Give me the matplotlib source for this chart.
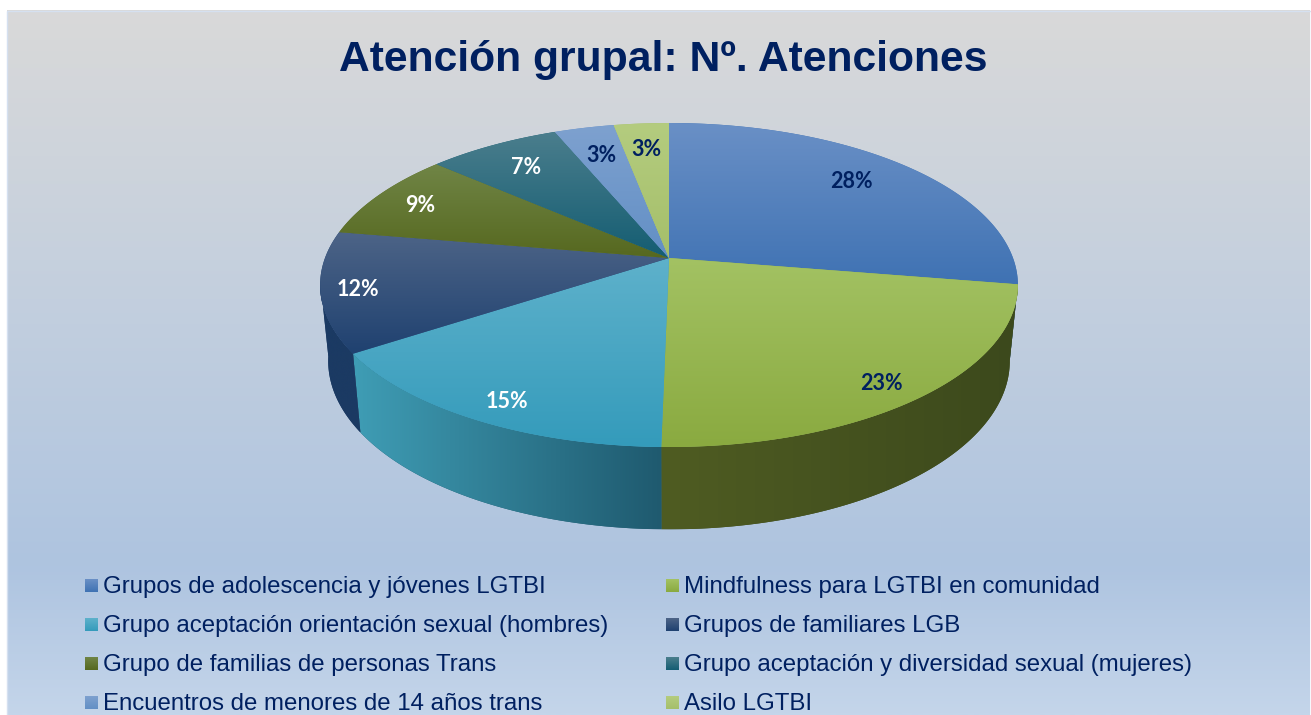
import numpy as np
import matplotlib
matplotlib.use('Agg')
import matplotlib.pyplot as plt
from matplotlib.colors import LinearSegmentedColormap
from matplotlib.patches import Polygon, Rectangle

W, H = 1311, 715

title = 'Atención grupal: Nº. Atenciones'
categories = [
    'Grupos de adolescencia y jóvenes LGTBI',
    'Mindfulness para LGTBI en comunidad',
    'Grupo aceptación orientación sexual (hombres)',
    'Grupos de familiares LGB',
    'Grupo de familias de personas Trans',
    'Grupo aceptación y diversidad sexual (mujeres)',
    'Encuentros de menores de 14 años trans',
    'Asilo LGTBI',
]
values = [27.6, 22.7, 15.4, 12.0, 8.8, 7.25, 3.25, 3.0]

# face gradient (top colour, bottom colour) for each slice
face_colors = [
    ('#6a90c6', '#3f72b3'), ('#a3c263', '#8aaa40'), ('#5eb1cb', '#349bbb'),
    ('#4d6487', '#1f4170'), ('#708546', '#56681f'), ('#4b7e8d', '#145d72'),
    ('#7ea1cf', '#628fc5'), ('#b4cc7f', '#a5bf6a'),
]
# wall gradient (left colour, right colour)
wall_colors = [
    ('#2f5a8f', '#2f5a8f'), ('#4f5c22', '#3c491c'), ('#3f9db5', '#1f5a6f'),
    ('#1b3a63', '#1b3a63'), None, None, None, None,
]
label_colors = ['#002060', '#002060', 'white', 'white', 'white', 'white', '#002060', '#002060']
label_xy = [(851, 181), (881, 383), (507, 402), (358, 289), (420, 206), (526, 167), (601, 155), (646, 150)]

# perspective of the pie: unit circle -> screen pixels
CX, K = 669, 0.1667
TOP_Y, TOP_A, TOP_B = 258, 344, 157.5
LOW_Y, LOW_A, LOW_B = 333, 336, 163.6


def project(theta, cy, a, b):
    u, v = np.sin(theta), np.cos(theta)
    d = 1 + K * v
    return np.column_stack([CX + a * u / d, cy - b * v / d])


def gradient_fill(ax, poly, c1, c2, horizontal=False, zorder=2):
    x0, x1 = poly[:, 0].min(), poly[:, 0].max()
    y0, y1 = poly[:, 1].min(), poly[:, 1].max()
    ax.add_patch(Polygon(poly, closed=True, fc=c2, ec='none', zorder=zorder))
    cmap = LinearSegmentedColormap.from_list('g', [c1, c2])
    grad = np.linspace(0, 1, 256)
    grad = grad.reshape(1, -1) if horizontal else grad.reshape(-1, 1)
    im = ax.imshow(grad, cmap=cmap, extent=(x0, x1, y1, y0), aspect='auto', zorder=zorder)
    im.set_clip_path(Polygon(poly, closed=True, transform=ax.transData))


fig = plt.figure(figsize=(W / 100, H / 100), dpi=100, facecolor='white')
ax = fig.add_axes([0, 0, 1, 1])

# chart area background
bg = LinearSegmentedColormap.from_list(
    'bg', [(0, '#d9d9d9'), (0.41, '#c3cfde'), (0.79, '#aec4e0'), (1, '#c4d5ea')])
ax.imshow(np.linspace(0, 1, 512).reshape(-1, 1), cmap=bg, extent=(7, 1310, 715, 10), aspect='auto', zorder=0)
ax.add_patch(Rectangle((6.5, 10.5), 1304, 710, fc='none', ec='#d5e0f0', lw=1, zorder=1))

fracs = np.cumsum([0] + values) / sum(values)
angles = 2 * np.pi * fracs

# walls first, the faces go over them
for i in range(4):
    if wall_colors[i] is None:
        continue
    t = np.linspace(angles[i], angles[i + 1], 200)
    t = t[(t > np.radians(98)) & (t < np.radians(262))]
    if len(t) < 2:
        continue
    upper = project(t, TOP_Y, TOP_A, TOP_B)
    lower = project(t, LOW_Y, LOW_A, LOW_B)
    gradient_fill(ax, np.vstack([upper, lower[::-1]]), *wall_colors[i], horizontal=True)

for i in range(len(values)):
    t = np.linspace(angles[i], angles[i + 1], 200)
    poly = np.vstack([[(CX, TOP_Y)], project(t, TOP_Y, TOP_A, TOP_B)])
    gradient_fill(ax, poly, *face_colors[i], zorder=3)

for val, col, (x, y) in zip(values, label_colors, label_xy):
    ax.text(x, y, f'{round(val)}%', color=col, ha='center', va='center', fontsize=15.5,
            family='Lato', weight='bold', zorder=5)

ax.text(663, 71, title, color='#002060', ha='center', va='baseline', fontsize=30.7,
        family='Liberation Sans', weight='bold', zorder=5)

# legend, two columns filled row by row
row_y = [586, 625, 664, 703]
col_x = [85, 666]
for i, name in enumerate(categories):
    x, y = col_x[i % 2], row_y[i // 2]
    sq = np.array([(x, y - 7), (x + 13, y - 7), (x + 13, y + 6), (x, y + 6)])
    gradient_fill(ax, sq, *face_colors[i], zorder=4)
    ax.text(x + 18, y + 7, name, color='#002060', ha='left', va='baseline', fontsize=17.25,
            family='Liberation Sans', zorder=5)

ax.set_xlim(0, W)
ax.set_ylim(H, 0)
ax.axis('off')
fig.savefig('out.png', dpi=100)
